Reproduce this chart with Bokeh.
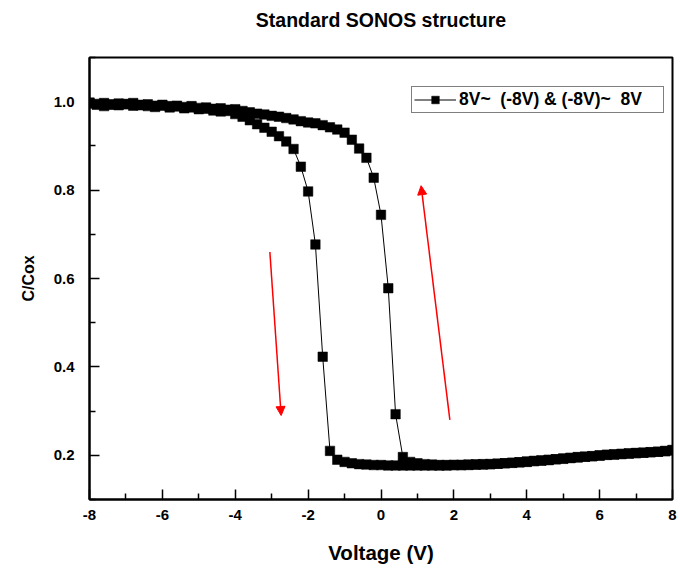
from bokeh.plotting import figure
from bokeh.models import (Range1d, LinearAxis, FixedTicker, Arrow, NormalHead,
                          Legend, LegendItem, PrintfTickFormatter)
from bokeh.embed import file_html
from bokeh.resources import INLINE

# ---------------- data ----------------
voltage = [-8.0, -7.8, -7.6, -7.4, -7.2, -7.0, -6.8, -6.6, -6.4, -6.2,
           -6.0, -5.8, -5.6, -5.4, -5.2, -5.0, -4.8, -4.6, -4.4, -4.2,
           -4.0, -3.8, -3.6, -3.4, -3.2, -3.0, -2.8, -2.6, -2.4, -2.2,
           -2.0, -1.8, -1.6, -1.4, -1.2, -1.0, -0.8, -0.6, -0.4, -0.2,
           0.0, 0.2, 0.4, 0.6, 0.8, 1.0, 1.2, 1.4, 1.6, 1.8,
           2.0, 2.2, 2.4, 2.6, 2.8, 3.0, 3.2, 3.4, 3.6, 3.8,
           4.0, 4.2, 4.4, 4.6, 4.8, 5.0, 5.2, 5.4, 5.6, 5.8,
           6.0, 6.2, 6.4, 6.6, 6.8, 7.0, 7.2, 7.4, 7.6, 7.8, 8.0]

# sweep whose transition is near -1.7 V
c_sweep_down = [0.996, 0.993, 0.990, 0.994, 0.992, 0.995, 0.991, 0.993, 0.990, 0.988,
                0.991, 0.987, 0.989, 0.985, 0.987, 0.983, 0.984, 0.980, 0.978, 0.979,
                0.972, 0.966, 0.958, 0.949, 0.941, 0.932, 0.922, 0.910, 0.893, 0.853,
                0.797, 0.677, 0.423, 0.210, 0.190, 0.185, 0.182, 0.180, 0.179, 0.178,
                0.178, 0.177, 0.177, 0.177, 0.177, 0.177, 0.177, 0.177, 0.177, 0.177,
                0.178, 0.178, 0.178, 0.179, 0.179, 0.180, 0.181, 0.182, 0.183, 0.184,
                0.186, 0.187, 0.188, 0.190, 0.191, 0.193, 0.194, 0.196, 0.197, 0.198,
                0.200, 0.201, 0.202, 0.203, 0.204, 0.205, 0.206, 0.207, 0.208, 0.209, 0.211]

# sweep whose transition is near +0.2 V
c_sweep_up = [0.998, 0.995, 0.997, 0.993, 0.996, 0.994, 0.997, 0.992, 0.994, 0.991,
              0.993, 0.990, 0.991, 0.988, 0.990, 0.986, 0.987, 0.984, 0.985, 0.982,
              0.983, 0.979, 0.976, 0.973, 0.971, 0.968, 0.966, 0.963, 0.960, 0.956,
              0.953, 0.951, 0.947, 0.942, 0.937, 0.930, 0.914, 0.894, 0.873, 0.828,
              0.744, 0.578, 0.293, 0.196, 0.185, 0.182, 0.180, 0.179, 0.178, 0.178,
              0.178, 0.178, 0.179, 0.179, 0.180, 0.180, 0.181, 0.182, 0.183, 0.184,
              0.185, 0.187, 0.188, 0.189, 0.191, 0.192, 0.194, 0.195, 0.197, 0.198,
              0.199, 0.201, 0.202, 0.203, 0.204, 0.205, 0.206, 0.207, 0.208, 0.210, 0.212]

x_ticks = [-8, -6, -4, -2, 0, 2, 4, 6, 8]
x_minor = [-7, -5, -3, -1, 1, 3, 5, 7]
y_ticks = [0.2, 0.4, 0.6, 0.8, 1.0]
y_minor = [0.1, 0.3, 0.5, 0.7, 0.9, 1.1]

legend_label = "8V~  (-8V) & (-8V)~  8V"
title_text = "Standard SONOS structure"

# red sweep-direction arrows (start x, start y, end x, end y)
arrow_down = [-3.05, 0.66, -2.74, 0.29]
arrow_up = [1.89, 0.28, 1.10, 0.81]

FONT = "Liberation Sans"

p = figure(width=680, height=572, output_backend="svg", toolbar_location=None,
           x_range=Range1d(-8, 8), y_range=Range1d(0.1, 1.1),
           min_border_left=89, min_border_right=8, min_border_top=57,
           min_border_bottom=73, x_axis_location=None, y_axis_location=None)
p.background_fill_color = "white"
p.border_fill_color = "white"
p.outline_line_color = "black"
p.outline_line_width = 2
p.xgrid.visible = False
p.ygrid.visible = False

# chart title, drawn as the label of a bare axis above the frame
title_axis = LinearAxis(ticker=FixedTicker(ticks=[]), axis_label=title_text)
title_axis.axis_line_color = None
title_axis.major_tick_line_color = None
title_axis.minor_tick_line_color = None
title_axis.major_tick_out = 0
title_axis.minor_tick_out = 0
title_axis.major_label_standoff = 0
title_axis.axis_label_standoff = 27
title_axis.axis_label_text_font = FONT
title_axis.axis_label_text_font_size = "19.5px"
title_axis.axis_label_text_font_style = "bold"
title_axis.axis_label_text_color = "black"
p.add_layout(title_axis, "above")


def style_axis(ax):
    ax.axis_line_width = 2
    ax.axis_line_color = "black"
    ax.major_tick_line_color = "black"
    ax.minor_tick_line_color = "black"
    ax.major_tick_line_width = 1.5
    ax.minor_tick_line_width = 1.5
    ax.major_tick_in = 10
    ax.major_tick_out = 0
    ax.minor_tick_in = 6
    ax.minor_tick_out = 0
    ax.major_label_text_font = FONT
    ax.major_label_text_font_style = "bold"
    ax.major_label_text_font_size = "15px"
    ax.major_label_text_color = "black"
    ax.axis_label_text_font = FONT
    ax.axis_label_text_font_style = "bold"
    ax.axis_label_text_color = "black"


xb = LinearAxis(ticker=FixedTicker(ticks=x_ticks, minor_ticks=x_minor),
                formatter=PrintfTickFormatter(format="%d"), axis_label="Voltage (V)")
style_axis(xb)
xb.axis_label_text_font_size = "20.5px"
xb.major_label_standoff = 10
xb.axis_label_standoff = 18
p.add_layout(xb, "below")

yl = LinearAxis(ticker=FixedTicker(ticks=y_ticks, minor_ticks=y_minor),
                formatter=PrintfTickFormatter(format="%.1f"), axis_label="C/Cox")
style_axis(yl)
yl.axis_label_text_font_size = "16px"
yl.major_label_standoff = 15
yl.axis_label_standoff = 14
p.add_layout(yl, "left")

l1 = p.line(voltage, c_sweep_down, line_color="black", line_width=1)
s1 = p.scatter(voltage, c_sweep_down, marker="square", size=9.5,
               fill_color="black", line_color="black", line_width=0.5)
l2 = p.line(voltage, c_sweep_up, line_color="black", line_width=1)
s2 = p.scatter(voltage, c_sweep_up, marker="square", size=9.5,
               fill_color="black", line_color="black", line_width=0.5)

for a in (arrow_down, arrow_up):
    p.add_layout(Arrow(end=NormalHead(size=9, fill_color="red", line_color="red"),
                       x_start=a[0], y_start=a[1], x_end=a[2], y_end=a[3],
                       line_color="red", line_width=1.5))

legend = Legend(items=[LegendItem(label=legend_label, renderers=[l1, s1])],
                location=(322, 386), orientation="vertical")
legend.border_line_color = "black"
legend.border_line_width = 1
legend.background_fill_alpha = 1
legend.padding = 2
legend.margin = 0
legend.glyph_width = 42
legend.glyph_height = 19
legend.label_height = 19
legend.label_standoff = 3
legend.label_width = 202
legend.label_text_font = FONT
legend.label_text_font_style = "bold"
legend.label_text_font_size = "17.5px"
legend.label_text_color = "black"
legend.label_text_baseline = "middle"
p.add_layout(legend, "center")

open("out.html", "w").write(file_html(p, INLINE))
